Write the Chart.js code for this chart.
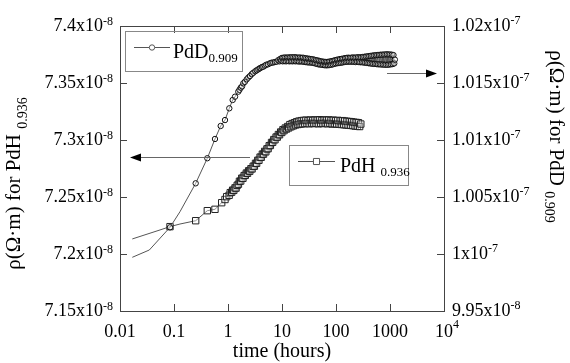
<!DOCTYPE html>
<html lang="en">
<head>
<meta charset="UTF-8">
<title>Resistivity vs time</title>
<script src="https://cdn.jsdelivr.net/npm/chart.js"></script>
<style>
  html, body { margin: 0; padding: 0; background: #fff; }
  canvas { display: block; }
</style>
</head>
<body>
<canvas id="rhoChart" width="570" height="363"></canvas>
<script>
// PdD_0.909, right axis, rho in units of 1e-7 ohm m
const pdD_time = [0.0169, 0.0349, 0.0843, 0.129, 0.252, 0.414, 0.574, 0.732, 0.880, 1.057,
  1.22, 1.35, 1.55, 1.63, 1.72, 1.82, 1.92, 2.05, 2.22, 2.38,
  2.55, 2.75, 2.94, 3.2, 3.4, 3.64, 3.85, 4.0, 4.25, 4.51, 4.8, 5.1, 5.5, 6.0, 6.4, 6.9, 7.4, 7.98, 8.5,
  9.0, 9.3, 9.6, 10.0, 10.3, 10.7, 11.1, 11.5, 11.9, 12.3, 12.7, 13.2, 13.6, 14.1, 14.6, 15.1, 15.6, 16.2, 16.8, 17.4,
  18.0, 18.6, 19.3, 19.9, 20.6, 21.4, 22.1, 22.9, 23.7, 24.5, 25.4, 26.3, 27.2, 28.1, 29.1, 30.1, 31.2, 32.3, 33.4, 34.6,
  35.8, 37.0, 38.3, 39.7, 41.1, 42.5, 44.0, 45.5, 47.1, 48.8, 50.5, 52.2, 54.1, 56.0, 57.9, 59.9, 62.0, 64.2, 66.5, 68.8,
  71.2, 73.7, 76.2, 78.9, 81.7, 84.5, 87.5, 90.5, 93.7, 97.0, 100, 104, 108, 111, 115, 119, 123, 128, 132, 137,
  142, 147, 152, 157, 163, 168, 174, 180, 187, 193, 200, 207, 214, 222, 230, 238, 246, 255, 264, 273,
  282, 292, 303, 313, 324, 336, 347, 360, 372, 385, 399, 413, 427, 442, 458, 474, 490, 507, 525, 544,
  563, 582, 603, 624, 646, 668, 692, 716, 741, 767, 794, 822, 850, 880, 911, 943, 976, 1010, 1045, 1082,
  1120, 1159, 1200, 1230];
const pdD_rho = [0.99971, 1.00035, 1.00234, 1.00371, 1.0062, 1.0084, 1.01009, 1.01123, 1.01175, 1.01278,
  1.01351, 1.0138, 1.01424, 1.0144, 1.01459, 1.0147, 1.01497, 1.0151, 1.01532, 1.01548,
  1.01561, 1.01578, 1.0159, 1.01603, 1.01612, 1.0162, 1.01628, 1.01632, 1.0164, 1.01643, 1.01652, 1.0166, 1.01664, 1.01673, 1.01678, 1.0168, 1.01684, 1.01687, 1.017,
  1.0169, 1.01712, 1.01695, 1.0172, 1.0169, 1.01722, 1.01692, 1.01724, 1.0169, 1.01722, 1.01694, 1.01725, 1.0169, 1.01724, 1.01692, 1.01726, 1.0169, 1.01725, 1.01692, 1.01726,
  1.0169, 1.01724, 1.01692, 1.01722, 1.01688, 1.01724, 1.0169, 1.0172, 1.01688, 1.01722, 1.01686, 1.01718, 1.01684, 1.01716, 1.01682, 1.01714, 1.0168, 1.01712, 1.0168, 1.0171,
  1.01678, 1.01708, 1.01676, 1.01704, 1.01672, 1.017, 1.01668, 1.01698, 1.01664, 1.01694, 1.01662, 1.0169, 1.0166, 1.01688, 1.01658, 1.01686, 1.01656, 1.01684, 1.01655, 1.01685,
  1.01656, 1.01686, 1.01658, 1.0169, 1.0166, 1.01692, 1.01664, 1.01696, 1.01668, 1.017, 1.01672, 1.01704, 1.01674, 1.01706, 1.01676, 1.0171, 1.01678, 1.01712, 1.0168, 1.01714,
  1.01684, 1.01718, 1.01686, 1.0172, 1.01686, 1.01722, 1.01688, 1.0172, 1.01686, 1.01722, 1.01688, 1.01724, 1.01686, 1.01722, 1.01684, 1.01724, 1.01686, 1.01726, 1.01684, 1.01724,
  1.01682, 1.01726, 1.01682, 1.01728, 1.0168, 1.0173, 1.01678, 1.01732, 1.01676, 1.01734, 1.01674, 1.01736, 1.01672, 1.01738, 1.0167, 1.0174, 1.01668, 1.01742, 1.01668, 1.01744,
  1.01666, 1.01745, 1.01664, 1.01746, 1.01664, 1.01748, 1.01662, 1.01748, 1.01662, 1.0175, 1.0166, 1.0175, 1.0166, 1.01752, 1.0166, 1.0175, 1.01662, 1.0175, 1.01664, 1.01748,
  1.01666, 1.01745, 1.01672, 1.01705];

// PdH_0.936, left axis, rho in units of 1e-8 ohm m
const pdH_time = [0.0169, 0.0551, 0.0843, 0.129, 0.252, 0.414, 0.574, 0.764, 0.880, 0.946,
  1.05, 1.10, 1.17, 1.22, 1.28, 1.35, 1.41, 1.48, 1.56, 1.63, 1.72, 1.80, 1.89, 1.99, 2.09, 2.19, 2.30, 2.41, 2.53, 2.66,
  2.79, 2.93, 3.08, 3.23, 3.39, 3.56, 3.74, 3.93, 4.12, 4.33, 4.55, 4.77, 5.01, 5.26, 5.53, 5.80, 6.09, 6.40, 6.72, 7.05,
  7.41, 7.78, 8.17, 8.57, 9.0, 9.45, 9.92, 10.4, 10.9, 11.5, 12.1, 12.7, 13.3, 14.0, 14.7, 15.4, 16.2, 17.0, 17.8, 18.7,
  19.7, 20.6, 21.7, 22.8, 23.9, 25.1, 26.4, 27.7, 29.1, 30.5, 32.0, 33.6, 35.3, 37.1, 38.9, 40.9, 42.9, 45.1, 47.3, 49.7,
  52.2, 54.8, 57.5, 60.4, 63.4, 66.6, 69.9, 73.4, 77.1, 80.9, 85.0, 89.2, 93.7, 98.4, 103, 108, 114, 120, 126, 132,
  139, 145, 153, 160, 168, 177, 186, 195, 205, 215, 226, 237, 249, 261, 274, 288];
const pdH_rho = [7.2132, 7.2211, 7.224, 7.2263, 7.2292, 7.238, 7.2392, 7.245, 7.2478, 7.2503,
  7.2515, 7.2538, 7.2542, 7.256, 7.2558, 7.258, 7.2578, 7.2602, 7.2612, 7.2638, 7.264, 7.2665, 7.2664, 7.2688, 7.269, 7.271, 7.2708, 7.273, 7.2726, 7.2748,
  7.2746, 7.277, 7.277, 7.2795, 7.2796, 7.2822, 7.2822, 7.285, 7.2848, 7.2876, 7.2876, 7.29, 7.2896, 7.2922, 7.2924, 7.295, 7.2952, 7.2978, 7.298, 7.3004,
  7.3002, 7.3026, 7.3025, 7.3048, 7.3046, 7.307, 7.3066, 7.309, 7.3082, 7.3105, 7.3096, 7.3118, 7.3106, 7.3135, 7.3116, 7.3144, 7.3124, 7.3152, 7.3132, 7.316,
  7.3136, 7.3166, 7.314, 7.317, 7.3142, 7.3172, 7.3144, 7.3174, 7.3146, 7.317, 7.3142, 7.3176, 7.3148, 7.3172, 7.3144, 7.3176, 7.3146, 7.3174, 7.3142, 7.3178,
  7.3146, 7.3172, 7.3144, 7.3176, 7.3148, 7.3174, 7.3142, 7.3176, 7.3146, 7.3172, 7.314, 7.3174, 7.3142, 7.317, 7.314, 7.3172, 7.3138, 7.3168, 7.3136, 7.317,
  7.3134, 7.3166, 7.3132, 7.3164, 7.313, 7.3162, 7.3128, 7.316, 7.3126, 7.3156, 7.3122, 7.3154, 7.312, 7.3152, 7.3118, 7.314];

const timeTicks = [0.01, 0.1, 1, 10, 100, 1000, 10000];
const timeTickLabels = [['0.01'], ['0.1'], ['1'], ['10'], ['100'], ['1000'], ['10', '4']];
const leftTicks = [7.15, 7.2, 7.25, 7.3, 7.35, 7.4];
const leftTickLabels = [['7.15x10', '-8'], ['7.2x10', '-8'], ['7.25x10', '-8'], ['7.3x10', '-8'], ['7.35x10', '-8'], ['7.4x10', '-8']];
const rightTicks = [0.995, 1, 1.005, 1.01, 1.015, 1.02];
const rightTickLabels = [['9.95x10', '-8'], ['1x10', '-7'], ['1.005x10', '-7'], ['1.01x10', '-7'], ['1.015x10', '-7'], ['1.02x10', '-7']];

const SERIF = '"Liberation Serif", "DejaVu Serif", serif';

// draw a run of text pieces (main + super/subscripts) side by side
function textRun(ctx, parts, x, y, align) {
  let w = 0;
  parts.forEach(p => {
    ctx.font = p.size + 'px ' + SERIF;
    p.w = ctx.measureText(p.t).width;
    w += p.w;
  });
  let cx = align === 'right' ? x - w : align === 'center' ? x - w / 2 : x;
  ctx.textAlign = 'left';
  ctx.textBaseline = 'alphabetic';
  parts.forEach(p => {
    ctx.font = p.size + 'px ' + SERIF;
    ctx.fillText(p.t, cx, y + p.dy);
    cx += p.w;
  });
}

function arrow(ctx, x0, x1, y) {
  const dir = Math.sign(x1 - x0);
  ctx.strokeStyle = '#666';
  ctx.lineWidth = 1;
  ctx.beginPath();
  ctx.moveTo(x0, y + 0.5);
  ctx.lineTo(x1 - dir * 8, y + 0.5);
  ctx.stroke();
  ctx.fillStyle = '#000';
  ctx.beginPath();
  ctx.moveTo(x1, y + 0.5);
  ctx.lineTo(x1 - dir * 11, y - 3.5);
  ctx.lineTo(x1 - dir * 11, y + 4.5);
  ctx.closePath();
  ctx.fill();
}

const decor = {
  id: 'decor',
  afterDraw(chart) {
    const ctx = chart.ctx;
    const a = chart.chartArea;
    const sx = chart.scales.x, sl = chart.scales.yL, sr = chart.scales.yR;
    ctx.save();
    ctx.strokeStyle = '#444';
    ctx.lineWidth = 1;
    ctx.beginPath();
    ctx.moveTo(a.left, Math.round(a.top) + 0.5);
    ctx.lineTo(a.right, Math.round(a.top) + 0.5);
    // inward ticks
    timeTicks.forEach(v => {
      const px = Math.round(sx.getPixelForValue(v)) + 0.5;
      ctx.moveTo(px, a.bottom); ctx.lineTo(px, a.bottom - 7);
      ctx.moveTo(px, a.top); ctx.lineTo(px, a.top + 7);
    });
    leftTicks.forEach(v => {
      const py = Math.round(sl.getPixelForValue(v)) + 0.5;
      ctx.moveTo(a.left, py); ctx.lineTo(a.left + 7, py);
    });
    rightTicks.forEach(v => {
      const py = Math.round(sr.getPixelForValue(v)) + 0.5;
      ctx.moveTo(a.right, py); ctx.lineTo(a.right - 7, py);
    });
    ctx.stroke();

    ctx.fillStyle = '#000';
    timeTicks.forEach((v, i) => {
      const px = sx.getPixelForValue(v);
      const l = timeTickLabels[i];
      const parts = [{ t: l[0], size: 18, dy: 0 }];
      if (l[1]) parts.push({ t: l[1], size: 12, dy: -9 });
      textRun(ctx, parts, px + (l[1] ? 3 : 0), a.bottom + 26, 'center');
    });
    leftTicks.forEach((v, i) => {
      const py = sl.getPixelForValue(v);
      textRun(ctx, [{ t: leftTickLabels[i][0], size: 18, dy: 0 }, { t: leftTickLabels[i][1], size: 12, dy: -6 }],
        a.left - 7, py + 4.5, 'right');
    });
    rightTicks.forEach((v, i) => {
      const py = sr.getPixelForValue(v);
      textRun(ctx, [{ t: rightTickLabels[i][0], size: 18, dy: 0 }, { t: rightTickLabels[i][1], size: 12, dy: -7 }],
        a.right + 8, py + 4.5, 'left');
    });

    // axis titles
    textRun(ctx, [{ t: 'time (hours)', size: 20, dy: 0 }], 282, 357, 'center');
    ctx.save();
    ctx.translate(19.5, 183.5);
    ctx.rotate(-Math.PI / 2);
    textRun(ctx, [{ t: 'ρ(Ω·m) for PdH ', size: 21, dy: 0 }, { t: '0.936', size: 14, dy: 7 }], 0, 0, 'center');
    ctx.restore();
    ctx.save();
    ctx.translate(550, 136.5);
    ctx.rotate(Math.PI / 2);
    textRun(ctx, [{ t: 'ρ(Ω·m) for PdD ', size: 21, dy: 0 }, { t: '0.909', size: 14, dy: 5 }], 0, 0, 'center');
    ctx.restore();

    // arrows pointing at each series' axis
    arrow(ctx, 250, 130, 157);
    arrow(ctx, 387, 437, 73);

    // legend boxes
    const legends = [
      { ds: 0, box: [125.5, 31.5, 117, 40], ly: 47.5, lx: [134, 170], name: 'PdD', sub: '0.909', tx: 173, ty: 58 },
      { ds: 1, box: [289.5, 145.5, 119, 40], ly: 161.5, lx: [298, 335], name: 'PdH ', sub: '0.936', tx: 340, ty: 172 }
    ];
    legends.forEach(g => {
      const d = chart.data.datasets[g.ds];
      ctx.strokeStyle = '#888';
      ctx.lineWidth = 1;
      ctx.strokeRect(...g.box);
      ctx.strokeStyle = d.borderColor;
      ctx.beginPath();
      ctx.moveTo(g.lx[0], g.ly); ctx.lineTo(g.lx[1], g.ly);
      ctx.stroke();
      ctx.fillStyle = '#fff';
      ctx.strokeStyle = '#555';
      Chart.helpers.drawPoint(ctx, { pointStyle: d.pointStyle, radius: d.legendRadius, borderWidth: 1, rotation: 0 },
        (g.lx[0] + g.lx[1]) / 2, g.ly);
      ctx.fillStyle = '#000';
      textRun(ctx, [{ t: g.name, size: 20, dy: 0 }, { t: g.sub, size: 13, dy: 4 }], g.tx, g.ty, 'left');
    });
    ctx.restore();
  }
};

const unmarked = [0, 1, 3];

new Chart(document.getElementById('rhoChart'), {
  type: 'line',
  data: {
    datasets: [
      {
        label: 'PdD0.909',
        data: pdD_time.map((t, i) => ({ x: t, y: pdD_rho[i] })),
        yAxisID: 'yR',
        borderColor: '#555',
        borderWidth: 1,
        pointStyle: 'circle',
        pointRadius: c => unmarked.includes(c.dataIndex) ? 0 : 2.7,
        legendRadius: 2.7,
        pointBackgroundColor: 'rgba(255,255,255,0.35)',
        pointBorderColor: '#111',
        pointBorderWidth: 1,
        tension: 0,
        fill: false
      },
      {
        label: 'PdH0.936',
        data: pdH_time.map((t, i) => ({ x: t, y: pdH_rho[i] })),
        yAxisID: 'yL',
        borderColor: '#555',
        borderWidth: 1,
        pointStyle: 'rect',
        pointRadius: c => unmarked.includes(c.dataIndex) ? 0 : 4.5,
        legendRadius: 4.3,
        pointBackgroundColor: 'rgba(255,255,255,0.35)',
        pointBorderColor: '#222',
        pointBorderWidth: 1,
        tension: 0,
        fill: false
      }
    ]
  },
  options: {
    responsive: false,
    animation: false,
    layout: { padding: { top: 26, left: 0, right: 0, bottom: 0 } },
    plugins: { legend: { display: false }, tooltip: { enabled: false } },
    scales: {
      x: {
        type: 'logarithmic',
        min: 0.01, max: 10000,
        ticks: { display: false },
        grid: { display: false },
        border: { color: '#444' },
        afterFit: s => { s.height = 52; }
      },
      yL: {
        type: 'linear', position: 'left',
        min: 7.15, max: 7.4,
        ticks: { display: false },
        grid: { display: false },
        border: { color: '#444' },
        afterFit: s => { s.width = 120; }
      },
      yR: {
        type: 'linear', position: 'right',
        min: 0.995, max: 1.02,
        ticks: { display: false },
        grid: { display: false },
        border: { color: '#444' },
        afterFit: s => { s.width = 126; }
      }
    }
  },
  plugins: [decor]
});
</script>
</body>
</html>
